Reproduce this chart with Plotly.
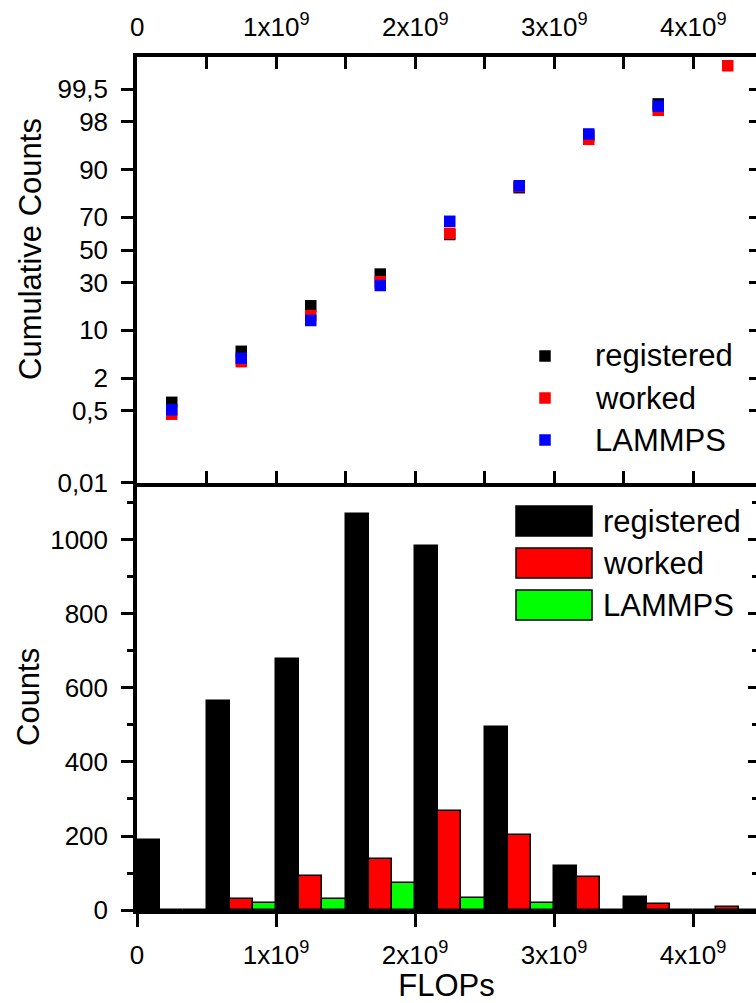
import plotly.graph_objects as go
from statistics import NormalDist

# ---------------- data ----------------
bin_centers = [0.25e9, 0.75e9, 1.25e9, 1.75e9, 2.25e9, 2.75e9, 3.25e9, 3.75e9, 4.25e9]
series_names = ["registered", "worked", "LAMMPS"]

# cumulative counts (percent), probability scale
cum_registered = [0.74, 5.25, 18.6, 35.0, 59.8, 84.06, 96.6, 99.03, None]
cum_worked = [0.43, 3.70, 14.7, 30.6, 60.5, 84.5, 96.17, 98.73, 99.84]
cum_lammps = [0.53, 4.16, 12.97, 28.5, 67.7, 84.8, 96.83, 98.93, None]

# histogram counts
cnt_registered = [190, 565, 678, 1070, 983, 495, 119, 36, 0]
cnt_worked = [0, 30, 92, 137, 268, 204, 90, 17, 9]
cnt_lammps = [0, 18, 30, 72, 33, 20, 0, 0, 0]

prob_ticks = [99.5, 98, 90, 70, 50, 30, 10, 2, 0.5, 0.01]
prob_ticktext = ["99,5", "98", "90", "70", "50", "30", "10", "2", "0,5", "0,01"]
x_tickvals = [0, 1e9, 2e9, 3e9, 4e9]
x_ticktext = ["0", "1x10<sup>9</sup>", "2x10<sup>9</sup>", "3x10<sup>9</sup>", "4x10<sup>9</sup>"]
x_minorvals = [0.5e9, 1.5e9, 2.5e9, 3.5e9, 4.5e9]
count_tickvals = [0, 200, 400, 600, 800, 1000]
count_minorvals = [100, 300, 500, 700, 900, 1100]

scatter_colors = ["#000000", "#FF0000", "#0000FF"]
bar_colors = ["#000000", "#FF0000", "#00FF00"]

# ---------------- helpers ----------------
nd = NormalDist()


def probit(p):
    return None if p is None else nd.inv_cdf(p / 100.0)


W, H = 756, 1003
L, R, T, B = 137, 0, 57, 93
PW, PH = W - L - R, H - T - B
SPLIT_PX = 483
split = (H - B - SPLIT_PX) / PH
X_MAX = PW / 139.0 * 1e9

FONT = "Liberation Sans, Arial, sans-serif"
TICKFONT = dict(family=FONT, size=26, color="black")
BIGFONT = dict(family=FONT, size=31, color="black")
LW = 3.5


def px2paper(xp, yp):
    return (xp - L) / PW, (H - B - yp) / PH


fig = go.Figure()

# ---------------- top panel: cumulative (probability scale) ----------------
for name, vals, col in zip(series_names, [cum_registered, cum_worked, cum_lammps], scatter_colors):
    fig.add_trace(go.Scatter(
        x=bin_centers, y=[probit(v) for v in vals], mode="markers", name=name,
        marker=dict(symbol="square", size=11.5, color=col, line=dict(width=0)),
        xaxis="x", yaxis="y", showlegend=False, cliponaxis=False))

# ---------------- bottom panel: histogram ----------------
for name, vals, col in zip(series_names, [cnt_registered, cnt_worked, cnt_lammps], bar_colors):
    fig.add_trace(go.Bar(
        x=bin_centers, y=vals, name=name,
        marker=dict(color=col, line=dict(color="black", width=1.5)),
        xaxis="x2", yaxis="y2", showlegend=False))

# dummy traces for right-side tick axes
fig.add_trace(go.Scatter(x=[], y=[], xaxis="x", yaxis="y3", showlegend=False))
fig.add_trace(go.Scatter(x=[], y=[], xaxis="x2", yaxis="y4", showlegend=False))

zt = [probit(p) for p in prob_ticks]
ytop_range = [(250 - 483) / 62.5, (250 - 57) / 62.5]
ybot_range = [0, 1154]

fig.update_layout(
    width=W, height=H, margin=dict(l=L, r=R, t=T, b=B, pad=0, autoexpand=False),
    paper_bgcolor="white", plot_bgcolor="white",
    barmode="group", bargap=0, bargroupgap=0,
    showlegend=False,
    font=dict(family=FONT, color="black"),
    xaxis=dict(domain=[0, 1], anchor="y", side="top", range=[0, X_MAX],
               tickmode="array", tickvals=x_tickvals, showticklabels=False,
               ticks="inside", ticklen=12, tickwidth=3, tickcolor="black",
               minor=dict(tickmode="array", tickvals=x_minorvals, ticks="inside",
                          ticklen=6, tickwidth=3, tickcolor="black"),
               showline=True, linewidth=LW, linecolor="black", mirror="allticks",
               showgrid=False, zeroline=False),
    yaxis=dict(domain=[split, 1], anchor="x", range=ytop_range,
               tickmode="array", tickvals=zt, ticktext=prob_ticktext,
               ticks="outside", ticklen=12, tickwidth=3, tickcolor="black",
               showline=True, linewidth=LW, linecolor="black",
               showgrid=False, zeroline=False, tickfont=TICKFONT, ticklabelstandoff=8),
    yaxis3=dict(overlaying="y", anchor="x", side="right", range=ytop_range,
                tickmode="array", tickvals=zt, ticks="inside", ticklen=7, tickwidth=3,
                tickcolor="black", showticklabels=False, showline=False,
                showgrid=False, zeroline=False),
    xaxis2=dict(domain=[0, 1], anchor="y2", side="bottom", range=[0, X_MAX],
                tickmode="array", tickvals=x_tickvals, ticktext=x_ticktext,
                ticks="outside", ticklen=13, tickwidth=3, tickcolor="black",
                showline=True, linewidth=LW, linecolor="black",
                showgrid=False, zeroline=False, tickfont=TICKFONT, ticklabelstandoff=6,
                title=dict(text="FLOPs", font=BIGFONT, standoff=12)),
    yaxis2=dict(domain=[0, split], anchor="x2", range=ybot_range,
                tickmode="array", tickvals=count_tickvals,
                ticks="outside", ticklen=12, tickwidth=3, tickcolor="black",
                minor=dict(tickmode="array", tickvals=count_minorvals, ticks="outside",
                           ticklen=6, tickwidth=3, tickcolor="black"),
                showline=True, linewidth=LW, linecolor="black",
                showgrid=False, zeroline=False, tickfont=TICKFONT, ticklabelstandoff=8),
    yaxis4=dict(overlaying="y2", anchor="x2", side="right", range=ybot_range,
                tickmode="array", tickvals=count_tickvals, ticks="inside", ticklen=8,
                tickwidth=3, tickcolor="black",
                minor=dict(tickmode="array", tickvals=count_minorvals, ticks="inside",
                           ticklen=4, tickwidth=3, tickcolor="black"),
                showticklabels=False, showline=False, showgrid=False, zeroline=False),
)

annotations = []
shapes = []

# top x-axis tick labels (placed on the data scale of the top x axis)
_, ty_top = px2paper(0, 43)
for tv, tt in zip(x_tickvals, x_ticktext):
    annotations.append(dict(text=tt, x=tv, y=ty_top, xref="x", yref="paper",
                            showarrow=False, font=TICKFONT, xanchor="center",
                            yanchor="bottom", borderpad=0))

# y-axis titles
ax, ay = px2paper(31, 249)
annotations.append(dict(text="Cumulative Counts", x=ax, y=ay, xref="paper", yref="paper",
                        textangle=-90, showarrow=False, font=BIGFONT,
                        xanchor="center", yanchor="middle"))
ax, ay = px2paper(28, 697)
annotations.append(dict(text="Counts", x=ax, y=ay, xref="paper", yref="paper",
                        textangle=-90, showarrow=False, font=BIGFONT,
                        xanchor="center", yanchor="middle"))

# legend, top panel (marker squares)
top_rows = [356, 398, 440]
for name, col, yc in zip(series_names, scatter_colors, top_rows):
    x0, y0 = px2paper(545 - 5.75, yc + 5.75)
    x1, y1 = px2paper(545 + 5.75, yc - 5.75)
    shapes.append(dict(type="rect", xref="paper", yref="paper", x0=x0, y0=y0, x1=x1, y1=y1,
                       fillcolor=col, line=dict(width=0)))
    tx, ty = px2paper(593, yc)
    annotations.append(dict(text=name, x=tx, y=ty, xref="paper", yref="paper",
                            showarrow=False, font=BIGFONT, xanchor="left", yanchor="middle"))

# legend, bottom panel (bar swatches)
bot_rows = [521, 563, 605]
for name, col, yc in zip(series_names, bar_colors, bot_rows):
    x0, y0 = px2paper(516, yc + 15)
    x1, y1 = px2paper(592, yc - 15)
    shapes.append(dict(type="rect", xref="paper", yref="paper", x0=x0, y0=y0, x1=x1, y1=y1,
                       fillcolor=col, line=dict(color="black", width=1.5)))
    tx, ty = px2paper(601, yc)
    annotations.append(dict(text=name, x=tx, y=ty, xref="paper", yref="paper",
                            showarrow=False, font=BIGFONT, xanchor="left", yanchor="middle"))

fig.update_layout(annotations=annotations, shapes=shapes)

fig.write_html("out.html")
